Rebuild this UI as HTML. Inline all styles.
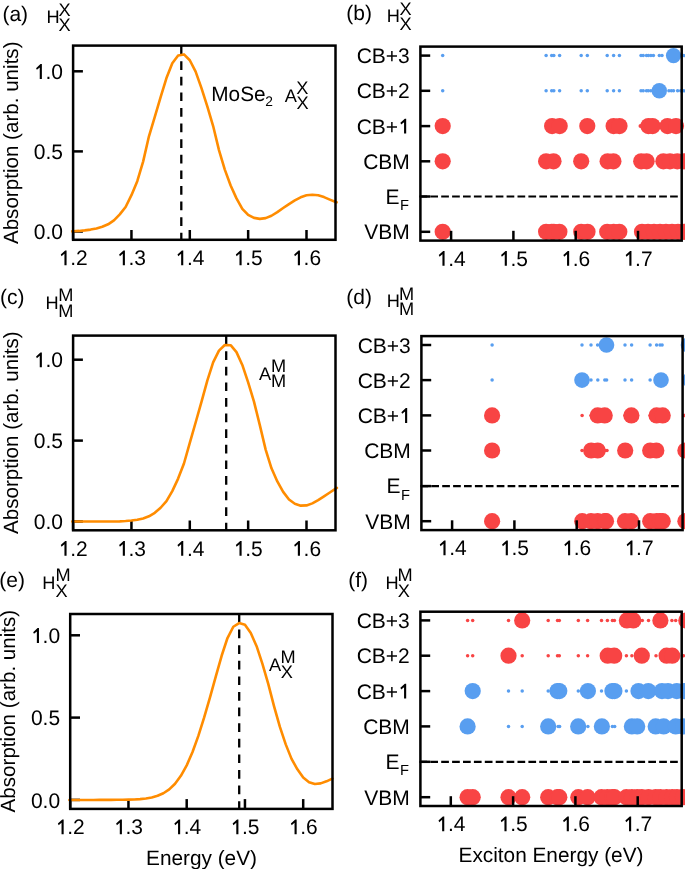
<!DOCTYPE html>
<html><head><meta charset="utf-8"><style>
html,body{margin:0;padding:0;background:#fff;}
body{width:685px;height:869px;overflow:hidden;}
svg{display:block;will-change:transform;}
</style></head><body>
<svg width="685" height="869" viewBox="0 0 685 869" font-family='"Liberation Sans", sans-serif' fill="#000" text-rendering="geometricPrecision">
<line x1="73.10" y1="239.80" x2="73.10" y2="230.00" stroke="#000" stroke-width="2.5" />
<line x1="131.45" y1="239.80" x2="131.45" y2="230.00" stroke="#000" stroke-width="2.5" />
<line x1="189.80" y1="239.80" x2="189.80" y2="230.00" stroke="#000" stroke-width="2.5" />
<line x1="248.15" y1="239.80" x2="248.15" y2="230.00" stroke="#000" stroke-width="2.5" />
<line x1="306.50" y1="239.80" x2="306.50" y2="230.00" stroke="#000" stroke-width="2.5" />
<line x1="73.10" y1="231.50" x2="82.90" y2="231.50" stroke="#000" stroke-width="2.5" />
<line x1="73.10" y1="151.40" x2="82.90" y2="151.40" stroke="#000" stroke-width="2.5" />
<line x1="73.10" y1="71.30" x2="82.90" y2="71.30" stroke="#000" stroke-width="2.5" />
<line x1="181.30" y1="45.60" x2="181.30" y2="239.80" stroke="#000" stroke-width="2.3" stroke-dasharray="8.7 6.9"/>
<path d="M72.30,231.35 L73.10,231.30 L78.93,230.92 L84.77,230.39 L90.60,229.59 L96.44,228.45 L102.27,226.80 L108.11,224.31 L113.94,220.31 L119.78,214.42 L125.61,207.04 L131.45,195.16 L137.28,181.15 L143.12,161.60 L148.95,136.30 L154.79,116.93 L160.62,97.03 L166.46,78.02 L172.29,63.21 L178.13,55.48 L183.96,54.41 L189.80,60.23 L195.63,71.65 L201.47,88.13 L207.31,106.34 L213.14,126.05 L218.97,150.11 L224.81,169.62 L230.64,185.54 L236.48,198.41 L242.31,208.83 L248.15,214.91 L253.98,217.90 L259.82,218.90 L265.65,218.15 L271.49,215.76 L277.32,212.15 L283.16,208.02 L289.00,204.05 L294.83,200.42 L300.66,197.29 L306.50,195.31 L312.33,194.80 L318.17,195.30 L324.00,197.10 L329.84,199.59 L335.67,201.94 L336.60,202.30" fill="none" stroke="#ff8c00" stroke-width="2.6" stroke-linecap="round" stroke-linejoin="round"/>
<rect x="73.10" y="45.60" width="262.40" height="194.20" fill="none" stroke="#000" stroke-width="2.5" stroke-linejoin="miter"/>
<text x="33.81" y="239.10" font-size="21">0.0</text>
<text x="33.81" y="159.00" font-size="21">0.5</text>
<path transform="translate(33.81,78.90) scale(0.0210,-0.0210)" d="M283,0 L384,0 L384,705 L318,705 L108,512 L146,432 L283,545 Z"/>
<text x="45.49" y="78.90" font-size="21">.0</text>
<path transform="translate(58.50,265.20) scale(0.0210,-0.0210)" d="M283,0 L384,0 L384,705 L318,705 L108,512 L146,432 L283,545 Z"/>
<text x="70.18" y="265.20" font-size="21">.2</text>
<path transform="translate(116.85,265.20) scale(0.0210,-0.0210)" d="M283,0 L384,0 L384,705 L318,705 L108,512 L146,432 L283,545 Z"/>
<text x="128.53" y="265.20" font-size="21">.3</text>
<path transform="translate(175.20,265.20) scale(0.0210,-0.0210)" d="M283,0 L384,0 L384,705 L318,705 L108,512 L146,432 L283,545 Z"/>
<text x="186.88" y="265.20" font-size="21">.4</text>
<path transform="translate(233.55,265.20) scale(0.0210,-0.0210)" d="M283,0 L384,0 L384,705 L318,705 L108,512 L146,432 L283,545 Z"/>
<text x="245.23" y="265.20" font-size="21">.5</text>
<path transform="translate(291.90,265.20) scale(0.0210,-0.0210)" d="M283,0 L384,0 L384,705 L318,705 L108,512 L146,432 L283,545 Z"/>
<text x="303.58" y="265.20" font-size="21">.6</text>
<text transform="translate(17.90,142.80) rotate(-90)" font-size="20.6" text-anchor="middle">Absorption (arb. units)</text>
<line x1="73.10" y1="530.30" x2="73.10" y2="520.50" stroke="#000" stroke-width="2.5" />
<line x1="131.45" y1="530.30" x2="131.45" y2="520.50" stroke="#000" stroke-width="2.5" />
<line x1="189.80" y1="530.30" x2="189.80" y2="520.50" stroke="#000" stroke-width="2.5" />
<line x1="248.15" y1="530.30" x2="248.15" y2="520.50" stroke="#000" stroke-width="2.5" />
<line x1="306.50" y1="530.30" x2="306.50" y2="520.50" stroke="#000" stroke-width="2.5" />
<line x1="73.10" y1="521.50" x2="82.90" y2="521.50" stroke="#000" stroke-width="2.5" />
<line x1="73.10" y1="440.60" x2="82.90" y2="440.60" stroke="#000" stroke-width="2.5" />
<line x1="73.10" y1="359.70" x2="82.90" y2="359.70" stroke="#000" stroke-width="2.5" />
<line x1="226.20" y1="335.60" x2="226.20" y2="530.30" stroke="#000" stroke-width="2.3" stroke-dasharray="8.7 6.9"/>
<path d="M72.30,521.50 L73.10,521.50 L78.93,521.50 L84.77,521.50 L90.60,521.50 L96.44,521.50 L102.27,521.50 L108.11,521.50 L113.94,521.47 L119.78,521.33 L125.61,521.03 L131.45,520.52 L137.28,519.73 L143.12,518.43 L148.95,516.29 L154.79,512.78 L160.62,507.76 L166.46,501.16 L172.29,491.12 L178.13,478.58 L183.96,463.50 L189.80,442.87 L195.63,422.50 L201.47,401.95 L207.31,380.68 L213.14,362.32 L218.97,350.62 L224.81,344.99 L230.64,345.20 L236.48,352.12 L242.31,364.93 L248.15,382.41 L253.98,401.63 L259.82,425.13 L265.65,449.61 L271.49,468.31 L277.32,481.43 L283.16,491.85 L289.00,499.57 L294.83,503.78 L300.66,505.64 L306.50,505.42 L312.33,503.37 L318.17,500.08 L324.00,496.32 L329.84,492.49 L335.67,488.69 L336.90,487.90" fill="none" stroke="#ff8c00" stroke-width="2.6" stroke-linecap="round" stroke-linejoin="round"/>
<rect x="73.10" y="335.60" width="262.40" height="194.70" fill="none" stroke="#000" stroke-width="2.5" stroke-linejoin="miter"/>
<text x="33.81" y="529.10" font-size="21">0.0</text>
<text x="33.81" y="448.20" font-size="21">0.5</text>
<path transform="translate(33.81,367.30) scale(0.0210,-0.0210)" d="M283,0 L384,0 L384,705 L318,705 L108,512 L146,432 L283,545 Z"/>
<text x="45.49" y="367.30" font-size="21">.0</text>
<path transform="translate(58.50,555.70) scale(0.0210,-0.0210)" d="M283,0 L384,0 L384,705 L318,705 L108,512 L146,432 L283,545 Z"/>
<text x="70.18" y="555.70" font-size="21">.2</text>
<path transform="translate(116.85,555.70) scale(0.0210,-0.0210)" d="M283,0 L384,0 L384,705 L318,705 L108,512 L146,432 L283,545 Z"/>
<text x="128.53" y="555.70" font-size="21">.3</text>
<path transform="translate(175.20,555.70) scale(0.0210,-0.0210)" d="M283,0 L384,0 L384,705 L318,705 L108,512 L146,432 L283,545 Z"/>
<text x="186.88" y="555.70" font-size="21">.4</text>
<path transform="translate(233.55,555.70) scale(0.0210,-0.0210)" d="M283,0 L384,0 L384,705 L318,705 L108,512 L146,432 L283,545 Z"/>
<text x="245.23" y="555.70" font-size="21">.5</text>
<path transform="translate(291.90,555.70) scale(0.0210,-0.0210)" d="M283,0 L384,0 L384,705 L318,705 L108,512 L146,432 L283,545 Z"/>
<text x="303.58" y="555.70" font-size="21">.6</text>
<text transform="translate(17.90,432.70) rotate(-90)" font-size="20.6" text-anchor="middle">Absorption (arb. units)</text>
<line x1="70.20" y1="808.90" x2="70.20" y2="799.10" stroke="#000" stroke-width="2.5" />
<line x1="128.45" y1="808.90" x2="128.45" y2="799.10" stroke="#000" stroke-width="2.5" />
<line x1="186.70" y1="808.90" x2="186.70" y2="799.10" stroke="#000" stroke-width="2.5" />
<line x1="244.95" y1="808.90" x2="244.95" y2="799.10" stroke="#000" stroke-width="2.5" />
<line x1="303.20" y1="808.90" x2="303.20" y2="799.10" stroke="#000" stroke-width="2.5" />
<line x1="70.20" y1="799.90" x2="80.00" y2="799.90" stroke="#000" stroke-width="2.5" />
<line x1="70.20" y1="717.60" x2="80.00" y2="717.60" stroke="#000" stroke-width="2.5" />
<line x1="70.20" y1="635.30" x2="80.00" y2="635.30" stroke="#000" stroke-width="2.5" />
<line x1="239.20" y1="614.00" x2="239.20" y2="808.90" stroke="#000" stroke-width="2.3" stroke-dasharray="8.7 6.9"/>
<path d="M69.40,800.00 L70.20,800.00 L76.03,800.01 L81.85,800.01 L87.68,799.99 L93.50,799.95 L99.33,799.90 L105.15,799.87 L110.97,799.83 L116.80,799.78 L122.62,799.71 L128.45,799.60 L134.28,799.44 L140.10,799.12 L145.93,798.51 L151.75,797.47 L157.57,795.81 L163.40,793.27 L169.23,789.42 L175.05,783.75 L180.88,775.85 L186.70,765.37 L192.53,752.04 L198.35,735.89 L204.18,717.40 L210.00,697.41 L215.82,676.45 L221.65,655.78 L227.48,638.03 L233.30,626.75 L239.12,623.08 L244.95,624.77 L250.78,633.09 L256.60,646.19 L262.43,663.92 L268.25,683.94 L274.07,706.34 L279.90,726.94 L285.73,744.38 L291.55,758.86 L297.38,769.31 L303.20,777.54 L309.03,782.21 L314.85,783.96 L320.68,783.37 L326.50,781.32 L332.32,778.64 L332.40,778.60" fill="none" stroke="#ff8c00" stroke-width="2.6" stroke-linecap="round" stroke-linejoin="round"/>
<rect x="70.20" y="614.00" width="262.30" height="194.90" fill="none" stroke="#000" stroke-width="2.5" stroke-linejoin="miter"/>
<text x="30.91" y="807.50" font-size="21">0.0</text>
<text x="30.91" y="725.20" font-size="21">0.5</text>
<path transform="translate(30.91,642.90) scale(0.0210,-0.0210)" d="M283,0 L384,0 L384,705 L318,705 L108,512 L146,432 L283,545 Z"/>
<text x="42.59" y="642.90" font-size="21">.0</text>
<path transform="translate(55.60,834.30) scale(0.0210,-0.0210)" d="M283,0 L384,0 L384,705 L318,705 L108,512 L146,432 L283,545 Z"/>
<text x="67.28" y="834.30" font-size="21">.2</text>
<path transform="translate(113.85,834.30) scale(0.0210,-0.0210)" d="M283,0 L384,0 L384,705 L318,705 L108,512 L146,432 L283,545 Z"/>
<text x="125.53" y="834.30" font-size="21">.3</text>
<path transform="translate(172.10,834.30) scale(0.0210,-0.0210)" d="M283,0 L384,0 L384,705 L318,705 L108,512 L146,432 L283,545 Z"/>
<text x="183.78" y="834.30" font-size="21">.4</text>
<path transform="translate(230.35,834.30) scale(0.0210,-0.0210)" d="M283,0 L384,0 L384,705 L318,705 L108,512 L146,432 L283,545 Z"/>
<text x="242.03" y="834.30" font-size="21">.5</text>
<path transform="translate(288.60,834.30) scale(0.0210,-0.0210)" d="M283,0 L384,0 L384,705 L318,705 L108,512 L146,432 L283,545 Z"/>
<text x="300.28" y="834.30" font-size="21">.6</text>
<text transform="translate(15.20,711.10) rotate(-90)" font-size="20.6" text-anchor="middle">Absorption (arb. units)</text>
<line x1="419.40" y1="196.50" x2="681.70" y2="196.50" stroke="#000" stroke-width="2.2" stroke-dasharray="7.7 3.2"/>
<circle cx="442.70" cy="55.60" r="1.75" fill="#589ef0"/>
<circle cx="546.10" cy="55.60" r="1.75" fill="#589ef0"/>
<circle cx="551.70" cy="55.60" r="1.75" fill="#589ef0"/>
<circle cx="553.80" cy="55.60" r="1.75" fill="#589ef0"/>
<circle cx="559.60" cy="55.60" r="1.75" fill="#589ef0"/>
<circle cx="581.20" cy="55.60" r="1.75" fill="#589ef0"/>
<circle cx="587.30" cy="55.60" r="1.75" fill="#589ef0"/>
<circle cx="607.20" cy="55.60" r="1.75" fill="#589ef0"/>
<circle cx="613.60" cy="55.60" r="1.75" fill="#589ef0"/>
<circle cx="619.40" cy="55.60" r="1.75" fill="#589ef0"/>
<circle cx="641.00" cy="55.60" r="1.75" fill="#589ef0"/>
<circle cx="643.20" cy="55.60" r="1.75" fill="#589ef0"/>
<circle cx="646.50" cy="55.60" r="1.75" fill="#589ef0"/>
<circle cx="648.40" cy="55.60" r="1.75" fill="#589ef0"/>
<circle cx="650.90" cy="55.60" r="1.75" fill="#589ef0"/>
<circle cx="653.40" cy="55.60" r="1.75" fill="#589ef0"/>
<circle cx="659.30" cy="55.60" r="1.75" fill="#589ef0"/>
<circle cx="662.00" cy="55.60" r="1.75" fill="#589ef0"/>
<circle cx="668.90" cy="55.60" r="1.75" fill="#589ef0"/>
<circle cx="671.30" cy="55.60" r="1.75" fill="#589ef0"/>
<circle cx="677.60" cy="55.60" r="1.75" fill="#589ef0"/>
<circle cx="680.70" cy="55.60" r="1.75" fill="#589ef0"/>
<circle cx="683.80" cy="55.60" r="1.75" fill="#589ef0"/>
<circle cx="673.50" cy="55.60" r="7.6" fill="#589ef0"/>
<circle cx="442.70" cy="90.80" r="1.75" fill="#589ef0"/>
<circle cx="546.10" cy="90.80" r="1.75" fill="#589ef0"/>
<circle cx="551.70" cy="90.80" r="1.75" fill="#589ef0"/>
<circle cx="553.80" cy="90.80" r="1.75" fill="#589ef0"/>
<circle cx="559.60" cy="90.80" r="1.75" fill="#589ef0"/>
<circle cx="581.20" cy="90.80" r="1.75" fill="#589ef0"/>
<circle cx="587.30" cy="90.80" r="1.75" fill="#589ef0"/>
<circle cx="607.20" cy="90.80" r="1.75" fill="#589ef0"/>
<circle cx="613.60" cy="90.80" r="1.75" fill="#589ef0"/>
<circle cx="619.40" cy="90.80" r="1.75" fill="#589ef0"/>
<circle cx="641.00" cy="90.80" r="1.75" fill="#589ef0"/>
<circle cx="643.20" cy="90.80" r="1.75" fill="#589ef0"/>
<circle cx="646.50" cy="90.80" r="1.75" fill="#589ef0"/>
<circle cx="648.40" cy="90.80" r="1.75" fill="#589ef0"/>
<circle cx="650.90" cy="90.80" r="1.75" fill="#589ef0"/>
<circle cx="653.40" cy="90.80" r="1.75" fill="#589ef0"/>
<circle cx="662.00" cy="90.80" r="1.75" fill="#589ef0"/>
<circle cx="668.90" cy="90.80" r="1.75" fill="#589ef0"/>
<circle cx="671.30" cy="90.80" r="1.75" fill="#589ef0"/>
<circle cx="673.50" cy="90.80" r="1.75" fill="#589ef0"/>
<circle cx="677.60" cy="90.80" r="1.75" fill="#589ef0"/>
<circle cx="680.70" cy="90.80" r="1.75" fill="#589ef0"/>
<circle cx="683.80" cy="90.80" r="1.75" fill="#589ef0"/>
<circle cx="659.30" cy="90.80" r="7.7" fill="#589ef0"/>
<circle cx="640.50" cy="126.10" r="2.0" fill="#f84444"/>
<circle cx="442.70" cy="126.10" r="8.1" fill="#f84444"/>
<circle cx="552.10" cy="126.10" r="8.1" fill="#f84444"/>
<circle cx="559.70" cy="126.10" r="8.1" fill="#f84444"/>
<circle cx="587.30" cy="126.10" r="8.1" fill="#f84444"/>
<circle cx="613.60" cy="126.10" r="8.1" fill="#f84444"/>
<circle cx="619.50" cy="126.10" r="8.1" fill="#f84444"/>
<circle cx="648.40" cy="126.10" r="8.1" fill="#f84444"/>
<circle cx="652.60" cy="126.10" r="8.1" fill="#f84444"/>
<circle cx="667.50" cy="126.10" r="8.1" fill="#f84444"/>
<circle cx="676.00" cy="126.10" r="8.1" fill="#f84444"/>
<circle cx="442.70" cy="161.30" r="8.1" fill="#f84444"/>
<circle cx="546.10" cy="161.30" r="8.1" fill="#f84444"/>
<circle cx="553.50" cy="161.30" r="8.1" fill="#f84444"/>
<circle cx="581.20" cy="161.30" r="8.1" fill="#f84444"/>
<circle cx="607.60" cy="161.30" r="8.1" fill="#f84444"/>
<circle cx="613.40" cy="161.30" r="8.1" fill="#f84444"/>
<circle cx="641.20" cy="161.30" r="8.1" fill="#f84444"/>
<circle cx="646.60" cy="161.30" r="8.1" fill="#f84444"/>
<circle cx="663.40" cy="161.30" r="8.1" fill="#f84444"/>
<circle cx="670.00" cy="161.30" r="8.1" fill="#f84444"/>
<circle cx="677.30" cy="161.30" r="8.1" fill="#f84444"/>
<circle cx="684.00" cy="161.30" r="8.1" fill="#f84444"/>
<circle cx="442.70" cy="231.80" r="8.1" fill="#f84444"/>
<circle cx="546.10" cy="231.80" r="8.1" fill="#f84444"/>
<circle cx="551.70" cy="231.80" r="8.1" fill="#f84444"/>
<circle cx="553.80" cy="231.80" r="8.1" fill="#f84444"/>
<circle cx="559.40" cy="231.80" r="8.1" fill="#f84444"/>
<circle cx="581.20" cy="231.80" r="8.1" fill="#f84444"/>
<circle cx="587.50" cy="231.80" r="8.1" fill="#f84444"/>
<circle cx="607.20" cy="231.80" r="8.1" fill="#f84444"/>
<circle cx="613.60" cy="231.80" r="8.1" fill="#f84444"/>
<circle cx="619.30" cy="231.80" r="8.1" fill="#f84444"/>
<circle cx="642.00" cy="231.80" r="8.1" fill="#f84444"/>
<circle cx="648.00" cy="231.80" r="8.1" fill="#f84444"/>
<circle cx="654.00" cy="231.80" r="8.1" fill="#f84444"/>
<circle cx="660.00" cy="231.80" r="8.1" fill="#f84444"/>
<circle cx="666.00" cy="231.80" r="8.1" fill="#f84444"/>
<circle cx="672.00" cy="231.80" r="8.1" fill="#f84444"/>
<circle cx="678.00" cy="231.80" r="8.1" fill="#f84444"/>
<circle cx="684.00" cy="231.80" r="8.1" fill="#f84444"/>
<line x1="451.10" y1="240.60" x2="451.10" y2="230.80" stroke="#000" stroke-width="2.5" />
<line x1="513.40" y1="240.60" x2="513.40" y2="230.80" stroke="#000" stroke-width="2.5" />
<line x1="575.70" y1="240.60" x2="575.70" y2="230.80" stroke="#000" stroke-width="2.5" />
<line x1="638.00" y1="240.60" x2="638.00" y2="230.80" stroke="#000" stroke-width="2.5" />
<line x1="420.40" y1="55.60" x2="430.20" y2="55.60" stroke="#000" stroke-width="2.5" />
<line x1="420.40" y1="90.80" x2="430.20" y2="90.80" stroke="#000" stroke-width="2.5" />
<line x1="420.40" y1="126.10" x2="430.20" y2="126.10" stroke="#000" stroke-width="2.5" />
<line x1="420.40" y1="161.30" x2="430.20" y2="161.30" stroke="#000" stroke-width="2.5" />
<line x1="420.40" y1="196.50" x2="430.20" y2="196.50" stroke="#000" stroke-width="2.5" />
<line x1="420.40" y1="231.80" x2="430.20" y2="231.80" stroke="#000" stroke-width="2.5" />
<rect x="420.40" y="46.60" width="261.30" height="194.00" fill="none" stroke="#000" stroke-width="2.5" stroke-linejoin="miter"/>
<path transform="translate(436.50,265.80) scale(0.0210,-0.0210)" d="M283,0 L384,0 L384,705 L318,705 L108,512 L146,432 L283,545 Z"/>
<text x="448.18" y="265.80" font-size="21">.4</text>
<path transform="translate(498.80,265.80) scale(0.0210,-0.0210)" d="M283,0 L384,0 L384,705 L318,705 L108,512 L146,432 L283,545 Z"/>
<text x="510.48" y="265.80" font-size="21">.5</text>
<path transform="translate(561.10,265.80) scale(0.0210,-0.0210)" d="M283,0 L384,0 L384,705 L318,705 L108,512 L146,432 L283,545 Z"/>
<text x="572.78" y="265.80" font-size="21">.6</text>
<path transform="translate(623.40,265.80) scale(0.0210,-0.0210)" d="M283,0 L384,0 L384,705 L318,705 L108,512 L146,432 L283,545 Z"/>
<text x="635.08" y="265.80" font-size="21">.7</text>
<text x="356.68" y="63.10" font-size="21">CB+3</text>
<text x="356.68" y="98.30" font-size="21">CB+2</text>
<text x="356.68" y="133.60" font-size="21">CB+</text>
<path transform="translate(398.12,133.60) scale(0.0210,-0.0210)" d="M283,0 L384,0 L384,705 L318,705 L108,512 L146,432 L283,545 Z"/>
<text x="363.13" y="168.80" font-size="21">CBM</text>
<text x="364.29" y="239.30" font-size="21">VBM</text>
<text x="385.40" y="203.70" font-size="21" text-anchor="start" >E</text>
<text x="399.90" y="209.90" font-size="14.7" text-anchor="start" >F</text>
<line x1="420.40" y1="486.10" x2="682.60" y2="486.10" stroke="#000" stroke-width="2.2" stroke-dasharray="7.7 3.2"/>
<circle cx="492.10" cy="345.00" r="1.75" fill="#589ef0"/>
<circle cx="582.00" cy="345.00" r="1.75" fill="#589ef0"/>
<circle cx="591.00" cy="345.00" r="1.75" fill="#589ef0"/>
<circle cx="597.60" cy="345.00" r="1.75" fill="#589ef0"/>
<circle cx="625.00" cy="345.00" r="1.75" fill="#589ef0"/>
<circle cx="631.60" cy="345.00" r="1.75" fill="#589ef0"/>
<circle cx="650.10" cy="345.00" r="1.75" fill="#589ef0"/>
<circle cx="656.60" cy="345.00" r="1.75" fill="#589ef0"/>
<circle cx="660.00" cy="345.00" r="1.75" fill="#589ef0"/>
<circle cx="662.10" cy="345.00" r="1.75" fill="#589ef0"/>
<circle cx="606.50" cy="345.00" r="7.8" fill="#589ef0"/>
<circle cx="688.50" cy="345.00" r="7.8" fill="#589ef0"/>
<circle cx="492.10" cy="380.10" r="1.75" fill="#589ef0"/>
<circle cx="591.00" cy="380.10" r="1.75" fill="#589ef0"/>
<circle cx="597.80" cy="380.10" r="1.75" fill="#589ef0"/>
<circle cx="604.80" cy="380.10" r="1.75" fill="#589ef0"/>
<circle cx="606.60" cy="380.10" r="1.75" fill="#589ef0"/>
<circle cx="625.00" cy="380.10" r="1.75" fill="#589ef0"/>
<circle cx="631.60" cy="380.10" r="1.75" fill="#589ef0"/>
<circle cx="650.10" cy="380.10" r="1.75" fill="#589ef0"/>
<circle cx="582.00" cy="380.10" r="7.8" fill="#589ef0"/>
<circle cx="661.00" cy="380.10" r="7.8" fill="#589ef0"/>
<circle cx="690.00" cy="380.10" r="7.8" fill="#589ef0"/>
<circle cx="582.10" cy="415.40" r="1.75" fill="#f84444"/>
<circle cx="591.00" cy="415.40" r="1.75" fill="#f84444"/>
<circle cx="625.00" cy="415.40" r="1.75" fill="#f84444"/>
<circle cx="650.10" cy="415.40" r="1.75" fill="#f84444"/>
<circle cx="684.00" cy="415.40" r="1.75" fill="#f84444"/>
<circle cx="492.10" cy="415.40" r="8.1" fill="#f84444"/>
<circle cx="597.70" cy="415.40" r="8.1" fill="#f84444"/>
<circle cx="604.70" cy="415.40" r="8.1" fill="#f84444"/>
<circle cx="631.40" cy="415.40" r="8.1" fill="#f84444"/>
<circle cx="656.60" cy="415.40" r="8.1" fill="#f84444"/>
<circle cx="662.70" cy="415.40" r="8.1" fill="#f84444"/>
<circle cx="582.00" cy="450.50" r="1.75" fill="#f84444"/>
<circle cx="605.50" cy="450.50" r="1.75" fill="#f84444"/>
<circle cx="607.00" cy="450.50" r="1.75" fill="#f84444"/>
<circle cx="492.10" cy="450.50" r="8.1" fill="#f84444"/>
<circle cx="591.20" cy="450.50" r="8.1" fill="#f84444"/>
<circle cx="597.70" cy="450.50" r="8.1" fill="#f84444"/>
<circle cx="625.20" cy="450.50" r="8.1" fill="#f84444"/>
<circle cx="650.20" cy="450.50" r="8.1" fill="#f84444"/>
<circle cx="656.30" cy="450.50" r="8.1" fill="#f84444"/>
<circle cx="685.40" cy="450.50" r="8.1" fill="#f84444"/>
<circle cx="492.10" cy="521.20" r="8.1" fill="#f84444"/>
<circle cx="582.20" cy="521.20" r="8.1" fill="#f84444"/>
<circle cx="591.00" cy="521.20" r="8.1" fill="#f84444"/>
<circle cx="597.60" cy="521.20" r="8.1" fill="#f84444"/>
<circle cx="605.00" cy="521.20" r="8.1" fill="#f84444"/>
<circle cx="606.00" cy="521.20" r="8.1" fill="#f84444"/>
<circle cx="625.00" cy="521.20" r="8.1" fill="#f84444"/>
<circle cx="631.20" cy="521.20" r="8.1" fill="#f84444"/>
<circle cx="650.20" cy="521.20" r="8.1" fill="#f84444"/>
<circle cx="656.60" cy="521.20" r="8.1" fill="#f84444"/>
<circle cx="660.00" cy="521.20" r="8.1" fill="#f84444"/>
<circle cx="662.70" cy="521.20" r="8.1" fill="#f84444"/>
<circle cx="685.40" cy="521.20" r="8.1" fill="#f84444"/>
<line x1="452.10" y1="530.10" x2="452.10" y2="520.30" stroke="#000" stroke-width="2.5" />
<line x1="514.40" y1="530.10" x2="514.40" y2="520.30" stroke="#000" stroke-width="2.5" />
<line x1="576.70" y1="530.10" x2="576.70" y2="520.30" stroke="#000" stroke-width="2.5" />
<line x1="639.00" y1="530.10" x2="639.00" y2="520.30" stroke="#000" stroke-width="2.5" />
<line x1="421.40" y1="345.00" x2="431.20" y2="345.00" stroke="#000" stroke-width="2.5" />
<line x1="421.40" y1="380.10" x2="431.20" y2="380.10" stroke="#000" stroke-width="2.5" />
<line x1="421.40" y1="415.40" x2="431.20" y2="415.40" stroke="#000" stroke-width="2.5" />
<line x1="421.40" y1="450.50" x2="431.20" y2="450.50" stroke="#000" stroke-width="2.5" />
<line x1="421.40" y1="486.10" x2="431.20" y2="486.10" stroke="#000" stroke-width="2.5" />
<line x1="421.40" y1="521.20" x2="431.20" y2="521.20" stroke="#000" stroke-width="2.5" />
<rect x="421.40" y="336.10" width="261.20" height="194.00" fill="none" stroke="#000" stroke-width="2.5" stroke-linejoin="miter"/>
<path transform="translate(437.50,555.30) scale(0.0210,-0.0210)" d="M283,0 L384,0 L384,705 L318,705 L108,512 L146,432 L283,545 Z"/>
<text x="449.18" y="555.30" font-size="21">.4</text>
<path transform="translate(499.80,555.30) scale(0.0210,-0.0210)" d="M283,0 L384,0 L384,705 L318,705 L108,512 L146,432 L283,545 Z"/>
<text x="511.48" y="555.30" font-size="21">.5</text>
<path transform="translate(562.10,555.30) scale(0.0210,-0.0210)" d="M283,0 L384,0 L384,705 L318,705 L108,512 L146,432 L283,545 Z"/>
<text x="573.78" y="555.30" font-size="21">.6</text>
<path transform="translate(624.40,555.30) scale(0.0210,-0.0210)" d="M283,0 L384,0 L384,705 L318,705 L108,512 L146,432 L283,545 Z"/>
<text x="636.08" y="555.30" font-size="21">.7</text>
<text x="357.68" y="352.50" font-size="21">CB+3</text>
<text x="357.68" y="387.60" font-size="21">CB+2</text>
<text x="357.68" y="422.90" font-size="21">CB+</text>
<path transform="translate(399.12,422.90) scale(0.0210,-0.0210)" d="M283,0 L384,0 L384,705 L318,705 L108,512 L146,432 L283,545 Z"/>
<text x="364.13" y="458.00" font-size="21">CBM</text>
<text x="365.29" y="528.70" font-size="21">VBM</text>
<text x="386.40" y="493.30" font-size="21" text-anchor="start" >E</text>
<text x="400.90" y="499.50" font-size="14.7" text-anchor="start" >F</text>
<line x1="419.40" y1="761.80" x2="681.70" y2="761.80" stroke="#000" stroke-width="2.2" stroke-dasharray="7.7 3.2"/>
<circle cx="467.60" cy="620.40" r="1.75" fill="#f84444"/>
<circle cx="472.70" cy="620.40" r="1.75" fill="#f84444"/>
<circle cx="508.50" cy="620.40" r="1.75" fill="#f84444"/>
<circle cx="548.20" cy="620.40" r="1.75" fill="#f84444"/>
<circle cx="557.50" cy="620.40" r="1.75" fill="#f84444"/>
<circle cx="559.30" cy="620.40" r="1.75" fill="#f84444"/>
<circle cx="578.30" cy="620.40" r="1.75" fill="#f84444"/>
<circle cx="587.60" cy="620.40" r="1.75" fill="#f84444"/>
<circle cx="601.50" cy="620.40" r="1.75" fill="#f84444"/>
<circle cx="607.40" cy="620.40" r="1.75" fill="#f84444"/>
<circle cx="612.40" cy="620.40" r="1.75" fill="#f84444"/>
<circle cx="614.40" cy="620.40" r="1.75" fill="#f84444"/>
<circle cx="642.30" cy="620.40" r="1.75" fill="#f84444"/>
<circle cx="648.50" cy="620.40" r="1.75" fill="#f84444"/>
<circle cx="671.90" cy="620.40" r="1.75" fill="#f84444"/>
<circle cx="675.70" cy="620.40" r="1.75" fill="#f84444"/>
<circle cx="522.20" cy="620.40" r="8.1" fill="#f84444"/>
<circle cx="626.90" cy="620.40" r="8.1" fill="#f84444"/>
<circle cx="633.30" cy="620.40" r="8.1" fill="#f84444"/>
<circle cx="660.40" cy="620.40" r="8.1" fill="#f84444"/>
<circle cx="686.30" cy="620.40" r="8.1" fill="#f84444"/>
<circle cx="467.60" cy="655.70" r="1.75" fill="#f84444"/>
<circle cx="472.70" cy="655.70" r="1.75" fill="#f84444"/>
<circle cx="522.20" cy="655.70" r="1.75" fill="#f84444"/>
<circle cx="548.20" cy="655.70" r="1.75" fill="#f84444"/>
<circle cx="557.50" cy="655.70" r="1.75" fill="#f84444"/>
<circle cx="559.30" cy="655.70" r="1.75" fill="#f84444"/>
<circle cx="578.30" cy="655.70" r="1.75" fill="#f84444"/>
<circle cx="587.60" cy="655.70" r="1.75" fill="#f84444"/>
<circle cx="626.40" cy="655.70" r="1.75" fill="#f84444"/>
<circle cx="631.90" cy="655.70" r="1.75" fill="#f84444"/>
<circle cx="656.00" cy="655.70" r="1.75" fill="#f84444"/>
<circle cx="683.40" cy="655.70" r="1.75" fill="#f84444"/>
<circle cx="508.50" cy="655.70" r="8.1" fill="#f84444"/>
<circle cx="607.70" cy="655.70" r="8.1" fill="#f84444"/>
<circle cx="614.20" cy="655.70" r="8.1" fill="#f84444"/>
<circle cx="641.80" cy="655.70" r="8.1" fill="#f84444"/>
<circle cx="666.60" cy="655.70" r="8.1" fill="#f84444"/>
<circle cx="672.20" cy="655.70" r="8.1" fill="#f84444"/>
<circle cx="508.50" cy="691.10" r="1.75" fill="#589ef0"/>
<circle cx="522.20" cy="691.10" r="1.75" fill="#589ef0"/>
<circle cx="548.20" cy="691.10" r="1.75" fill="#589ef0"/>
<circle cx="578.30" cy="691.10" r="1.75" fill="#589ef0"/>
<circle cx="601.50" cy="691.10" r="1.75" fill="#589ef0"/>
<circle cx="626.40" cy="691.10" r="1.75" fill="#589ef0"/>
<circle cx="472.70" cy="691.10" r="8.1" fill="#589ef0"/>
<circle cx="557.50" cy="691.10" r="8.1" fill="#589ef0"/>
<circle cx="559.30" cy="691.10" r="8.1" fill="#589ef0"/>
<circle cx="587.90" cy="691.10" r="8.1" fill="#589ef0"/>
<circle cx="612.40" cy="691.10" r="8.1" fill="#589ef0"/>
<circle cx="614.40" cy="691.10" r="8.1" fill="#589ef0"/>
<circle cx="638.50" cy="691.10" r="8.1" fill="#589ef0"/>
<circle cx="648.30" cy="691.10" r="8.1" fill="#589ef0"/>
<circle cx="662.00" cy="691.10" r="8.1" fill="#589ef0"/>
<circle cx="668.00" cy="691.10" r="8.1" fill="#589ef0"/>
<circle cx="676.80" cy="691.10" r="8.1" fill="#589ef0"/>
<circle cx="684.00" cy="691.10" r="8.1" fill="#589ef0"/>
<circle cx="508.50" cy="726.40" r="1.75" fill="#589ef0"/>
<circle cx="522.20" cy="726.40" r="1.75" fill="#589ef0"/>
<circle cx="558.10" cy="726.40" r="1.75" fill="#589ef0"/>
<circle cx="559.60" cy="726.40" r="1.75" fill="#589ef0"/>
<circle cx="587.90" cy="726.40" r="1.75" fill="#589ef0"/>
<circle cx="612.40" cy="726.40" r="1.75" fill="#589ef0"/>
<circle cx="614.70" cy="726.40" r="1.75" fill="#589ef0"/>
<circle cx="467.60" cy="726.40" r="8.1" fill="#589ef0"/>
<circle cx="548.20" cy="726.40" r="8.1" fill="#589ef0"/>
<circle cx="578.20" cy="726.40" r="8.1" fill="#589ef0"/>
<circle cx="601.90" cy="726.40" r="8.1" fill="#589ef0"/>
<circle cx="631.90" cy="726.40" r="8.1" fill="#589ef0"/>
<circle cx="637.20" cy="726.40" r="8.1" fill="#589ef0"/>
<circle cx="655.70" cy="726.40" r="8.1" fill="#589ef0"/>
<circle cx="663.70" cy="726.40" r="8.1" fill="#589ef0"/>
<circle cx="675.70" cy="726.40" r="8.1" fill="#589ef0"/>
<circle cx="683.00" cy="726.40" r="8.1" fill="#589ef0"/>
<circle cx="467.60" cy="797.20" r="8.1" fill="#f84444"/>
<circle cx="472.70" cy="797.20" r="8.1" fill="#f84444"/>
<circle cx="508.50" cy="797.20" r="8.1" fill="#f84444"/>
<circle cx="522.20" cy="797.20" r="8.1" fill="#f84444"/>
<circle cx="548.20" cy="797.20" r="8.1" fill="#f84444"/>
<circle cx="557.50" cy="797.20" r="8.1" fill="#f84444"/>
<circle cx="559.30" cy="797.20" r="8.1" fill="#f84444"/>
<circle cx="578.30" cy="797.20" r="8.1" fill="#f84444"/>
<circle cx="587.60" cy="797.20" r="8.1" fill="#f84444"/>
<circle cx="601.50" cy="797.20" r="8.1" fill="#f84444"/>
<circle cx="607.40" cy="797.20" r="8.1" fill="#f84444"/>
<circle cx="612.40" cy="797.20" r="8.1" fill="#f84444"/>
<circle cx="614.40" cy="797.20" r="8.1" fill="#f84444"/>
<circle cx="626.40" cy="797.20" r="8.1" fill="#f84444"/>
<circle cx="631.90" cy="797.20" r="8.1" fill="#f84444"/>
<circle cx="637.20" cy="797.20" r="8.1" fill="#f84444"/>
<circle cx="641.80" cy="797.20" r="8.1" fill="#f84444"/>
<circle cx="648.50" cy="797.20" r="8.1" fill="#f84444"/>
<circle cx="655.70" cy="797.20" r="8.1" fill="#f84444"/>
<circle cx="660.40" cy="797.20" r="8.1" fill="#f84444"/>
<circle cx="666.60" cy="797.20" r="8.1" fill="#f84444"/>
<circle cx="672.20" cy="797.20" r="8.1" fill="#f84444"/>
<circle cx="677.00" cy="797.20" r="8.1" fill="#f84444"/>
<circle cx="683.00" cy="797.20" r="8.1" fill="#f84444"/>
<line x1="450.80" y1="806.00" x2="450.80" y2="796.20" stroke="#000" stroke-width="2.5" />
<line x1="513.10" y1="806.00" x2="513.10" y2="796.20" stroke="#000" stroke-width="2.5" />
<line x1="575.40" y1="806.00" x2="575.40" y2="796.20" stroke="#000" stroke-width="2.5" />
<line x1="637.70" y1="806.00" x2="637.70" y2="796.20" stroke="#000" stroke-width="2.5" />
<line x1="420.40" y1="620.40" x2="430.20" y2="620.40" stroke="#000" stroke-width="2.5" />
<line x1="420.40" y1="655.70" x2="430.20" y2="655.70" stroke="#000" stroke-width="2.5" />
<line x1="420.40" y1="691.10" x2="430.20" y2="691.10" stroke="#000" stroke-width="2.5" />
<line x1="420.40" y1="726.40" x2="430.20" y2="726.40" stroke="#000" stroke-width="2.5" />
<line x1="420.40" y1="761.80" x2="430.20" y2="761.80" stroke="#000" stroke-width="2.5" />
<line x1="420.40" y1="797.20" x2="430.20" y2="797.20" stroke="#000" stroke-width="2.5" />
<rect x="420.40" y="611.70" width="261.30" height="194.30" fill="none" stroke="#000" stroke-width="2.5" stroke-linejoin="miter"/>
<path transform="translate(436.20,831.20) scale(0.0210,-0.0210)" d="M283,0 L384,0 L384,705 L318,705 L108,512 L146,432 L283,545 Z"/>
<text x="447.88" y="831.20" font-size="21">.4</text>
<path transform="translate(498.50,831.20) scale(0.0210,-0.0210)" d="M283,0 L384,0 L384,705 L318,705 L108,512 L146,432 L283,545 Z"/>
<text x="510.18" y="831.20" font-size="21">.5</text>
<path transform="translate(560.80,831.20) scale(0.0210,-0.0210)" d="M283,0 L384,0 L384,705 L318,705 L108,512 L146,432 L283,545 Z"/>
<text x="572.48" y="831.20" font-size="21">.6</text>
<path transform="translate(623.10,831.20) scale(0.0210,-0.0210)" d="M283,0 L384,0 L384,705 L318,705 L108,512 L146,432 L283,545 Z"/>
<text x="634.78" y="831.20" font-size="21">.7</text>
<text x="356.68" y="627.90" font-size="21">CB+3</text>
<text x="356.68" y="663.20" font-size="21">CB+2</text>
<text x="356.68" y="698.60" font-size="21">CB+</text>
<path transform="translate(398.12,698.60) scale(0.0210,-0.0210)" d="M283,0 L384,0 L384,705 L318,705 L108,512 L146,432 L283,545 Z"/>
<text x="363.13" y="733.90" font-size="21">CBM</text>
<text x="364.29" y="804.70" font-size="21">VBM</text>
<text x="385.40" y="769.00" font-size="21" text-anchor="start" >E</text>
<text x="399.90" y="775.20" font-size="14.7" text-anchor="start" >F</text>
<text x="2.40" y="20.70" font-size="21" text-anchor="start" >(a)</text>
<text x="346.30" y="20.10" font-size="21" text-anchor="start" >(b)</text>
<text x="-0.10" y="304.30" font-size="21" text-anchor="start" >(c)</text>
<text x="346.30" y="303.60" font-size="21" text-anchor="start" >(d)</text>
<text x="-0.70" y="586.90" font-size="21" text-anchor="start" >(e)</text>
<text x="348.30" y="587.10" font-size="21" text-anchor="start" >(f)</text>
<text x="46.50" y="22.90" font-size="18.2" text-anchor="start" >H</text>
<text x="58.40" y="15.70" font-size="18.2" text-anchor="start" >X</text>
<text x="58.40" y="30.60" font-size="18.2" text-anchor="start" >X</text>
<text x="386.70" y="22.20" font-size="18.2" text-anchor="start" >H</text>
<text x="399.40" y="14.90" font-size="18.2" text-anchor="start" >X</text>
<text x="399.40" y="29.70" font-size="18.2" text-anchor="start" >X</text>
<text x="45.60" y="308.90" font-size="18.2" text-anchor="start" >H</text>
<text x="58.20" y="300.70" font-size="18.2" text-anchor="start" >M</text>
<text x="58.20" y="316.60" font-size="18.2" text-anchor="start" >M</text>
<text x="386.70" y="307.00" font-size="18.2" text-anchor="start" >H</text>
<text x="399.00" y="299.80" font-size="18.2" text-anchor="start" >M</text>
<text x="399.00" y="314.80" font-size="18.2" text-anchor="start" >M</text>
<text x="42.30" y="588.50" font-size="18.2" text-anchor="start" >H</text>
<text x="55.60" y="580.70" font-size="18.2" text-anchor="start" >M</text>
<text x="55.40" y="596.50" font-size="18.2" text-anchor="start" >X</text>
<text x="385.40" y="588.50" font-size="18.2" text-anchor="start" >H</text>
<text x="397.60" y="580.50" font-size="18.2" text-anchor="start" >M</text>
<text x="397.80" y="596.50" font-size="18.2" text-anchor="start" >X</text>
<text x="211.30" y="101.30" font-size="20.8" text-anchor="start" >MoSe</text>
<text x="265.30" y="105.90" font-size="13.8" text-anchor="start" >2</text>
<text x="284.80" y="101.70" font-size="18.2" text-anchor="start" >A</text>
<text x="296.20" y="93.60" font-size="18.2" text-anchor="start" >X</text>
<text x="296.60" y="108.60" font-size="18.2" text-anchor="start" >X</text>
<text x="259.10" y="379.70" font-size="18.2" text-anchor="start" >A</text>
<text x="270.90" y="372.20" font-size="18.2" text-anchor="start" >M</text>
<text x="270.90" y="387.30" font-size="18.2" text-anchor="start" >M</text>
<text x="268.90" y="670.60" font-size="18.2" text-anchor="start" >A</text>
<text x="280.50" y="662.50" font-size="18.2" text-anchor="start" >M</text>
<text x="280.70" y="678.00" font-size="18.2" text-anchor="start" >X</text>
<text x="201.50" y="864.50" font-size="20.8" text-anchor="middle" >Energy (eV)</text>
<text x="551.00" y="861.50" font-size="20.8" text-anchor="middle" >Exciton Energy (eV)</text>
</svg>
</body></html>
